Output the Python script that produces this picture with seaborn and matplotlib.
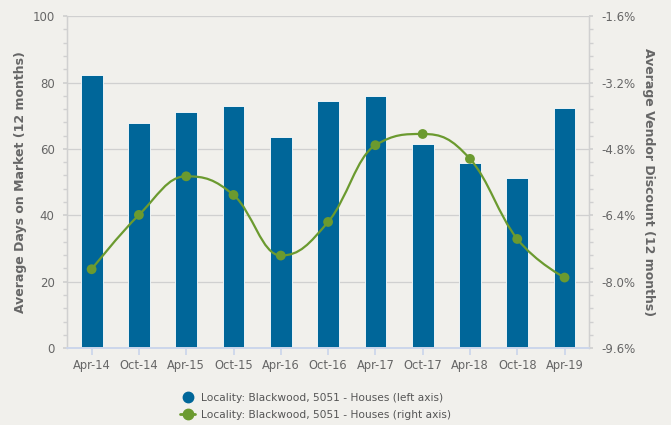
import numpy as np
import pandas as pd
import matplotlib
matplotlib.use("Agg")
import matplotlib.pyplot as plt
from matplotlib.path import Path
from matplotlib.patches import PathPatch
from matplotlib.lines import Line2D
from matplotlib.ticker import MultipleLocator, FuncFormatter
import seaborn as sns

# ── data ──────────────────────────────────────────────────────────────
periods = ["Apr-14", "Oct-14", "Apr-15", "Oct-15", "Apr-16", "Oct-16",
           "Apr-17", "Oct-17", "Apr-18", "Oct-18", "Apr-19"]
days_on_market = [82.2, 67.9, 71.0, 72.9, 63.6, 74.5, 76.0, 61.6, 55.7, 51.3, 72.3]
vendor_discount = [-7.70, -6.39, -5.46, -5.91, -7.37, -6.56,
                   -4.71, -4.44, -5.04, -6.97, -7.90]
series_name = "Locality: Blackwood, 5051 - Houses"

# ── style ─────────────────────────────────────────────────────────────
BG = "#f1f0ec"
BLUE = "#006699"
GREEN = "#6b9a2f"
GRID = "#d0d0d0"
AXIS = "#ccd6eb"
TEXT = "#666666"

sns.set_theme(style="white")
plt.rcParams.update({
    "font.family": ["DejaVu Sans"],
    "figure.facecolor": BG,
    "axes.facecolor": BG,
})


def spline_path(xs, ys, smoothing=1.5):
    """Highcharts-like spline through the points, as a bezier path."""
    n = len(xs)
    denom = smoothing + 1
    left = [(xs[i], ys[i]) for i in range(n)]
    right = [(xs[i], ys[i]) for i in range(n)]
    for i in range(1, n - 1):
        px, py = xs[i], ys[i]
        lx, ly = xs[i - 1], ys[i - 1]
        nx, ny = xs[i + 1], ys[i + 1]
        lcx = (smoothing * px + lx) / denom
        lcy = (smoothing * py + ly) / denom
        rcx = (smoothing * px + nx) / denom
        rcy = (smoothing * py + ny) / denom
        if rcx != lcx:
            corr = (rcy - lcy) * (rcx - px) / (rcx - lcx) + py - rcy
            lcy += corr
            rcy += corr
        if lcy > max(ly, py):
            lcy = max(ly, py)
            rcy = 2 * py - lcy
        elif lcy < min(ly, py):
            lcy = min(ly, py)
            rcy = 2 * py - lcy
        if rcy > max(py, ny):
            rcy = max(py, ny)
            lcy = 2 * py - rcy
        elif rcy < min(py, ny):
            rcy = min(py, ny)
            lcy = 2 * py - rcy
        left[i] = (lcx, lcy)
        right[i] = (rcx, rcy)
    verts = [(xs[0], ys[0])]
    codes = [Path.MOVETO]
    for i in range(1, n):
        verts += [right[i - 1], left[i], (xs[i], ys[i])]
        codes += [Path.CURVE4] * 3
    return Path(verts, codes)


df = pd.DataFrame({"period": periods, "days": days_on_market,
                   "discount": vendor_discount})
xpos = np.arange(len(periods))

fig, ax = plt.subplots(figsize=(6.71, 4.25), dpi=100)
fig.subplots_adjust(left=0.0999, right=0.878, top=0.962, bottom=0.181)

sns.barplot(data=df, x="period", y="days", color=BLUE, width=0.46,
            saturation=1, edgecolor="white", linewidth=0.6, ax=ax, zorder=2)

ax.set_xlim(-0.52, 10.52)
ax.set_ylim(0, 100)
ax.yaxis.set_major_locator(MultipleLocator(20))
ax.yaxis.set_minor_locator(MultipleLocator(4))
ax.grid(axis="y", which="major", color=GRID, linewidth=0.9, zorder=0)
ax.set_axisbelow(True)
ax.set_xlabel("")
ax.set_ylabel("Average Days on Market (12 months)", fontsize=9,
              fontweight="bold", color=TEXT, labelpad=4)
ax.tick_params(axis="y", which="major", left=True, length=3, color=GRID,
               labelsize=8.5, labelcolor=TEXT, pad=6)
ax.tick_params(axis="y", which="minor", left=True, length=3, color=GRID)
ax.tick_params(axis="x", bottom=True, length=5, color=AXIS,
               labelsize=8.3, labelcolor=TEXT, pad=3)

ax2 = ax.twinx()
ax2.set_ylim(-9.6, -1.6)
ax2.yaxis.set_major_locator(MultipleLocator(1.6))
ax2.yaxis.set_minor_locator(MultipleLocator(0.32))
ax2.yaxis.set_major_formatter(FuncFormatter(lambda v, _: f"{v:.1f}%"))
ax2.add_patch(PathPatch(spline_path(xpos, vendor_discount), facecolor="none",
                        edgecolor=GREEN, linewidth=1.6, zorder=3))
sns.scatterplot(x=xpos, y=vendor_discount, color=GREEN, s=50,
                edgecolor="none", ax=ax2, zorder=4)
ax2.set_ylabel("Average Vendor Discount (12 months)", fontsize=9,
               fontweight="bold", color=TEXT, rotation=270, labelpad=14)
ax2.tick_params(axis="y", which="major", right=True, length=3, color=GRID,
                labelsize=8.5, labelcolor=TEXT, pad=6)
ax2.tick_params(axis="y", which="minor", right=True, length=3, color=GRID)

for a in (ax, ax2):
    a.spines["top"].set_visible(False)
    a.spines["left"].set_color(GRID)
    a.spines["right"].set_color(GRID)
    a.spines["bottom"].set_color(AXIS)
    a.spines["left"].set_linewidth(0.9)
    a.spines["right"].set_linewidth(0.9)

handles = [
    Line2D([], [], marker="o", linestyle="none", color=BLUE, markersize=7.5),
    Line2D([], [], marker="o", linestyle="-", color=GREEN, markersize=7.5,
           linewidth=2),
]
labels = [f"{series_name} (left axis)", f"{series_name} (right axis)"]
fig.legend(handles, labels, loc="lower center", bbox_to_anchor=(0.47, -0.01),
           ncol=1, frameon=False, fontsize=7.7, labelcolor="#555555",
           handlelength=1.4, handletextpad=0.5, labelspacing=0.65)

fig.savefig("out.png", dpi=100, facecolor=BG)
